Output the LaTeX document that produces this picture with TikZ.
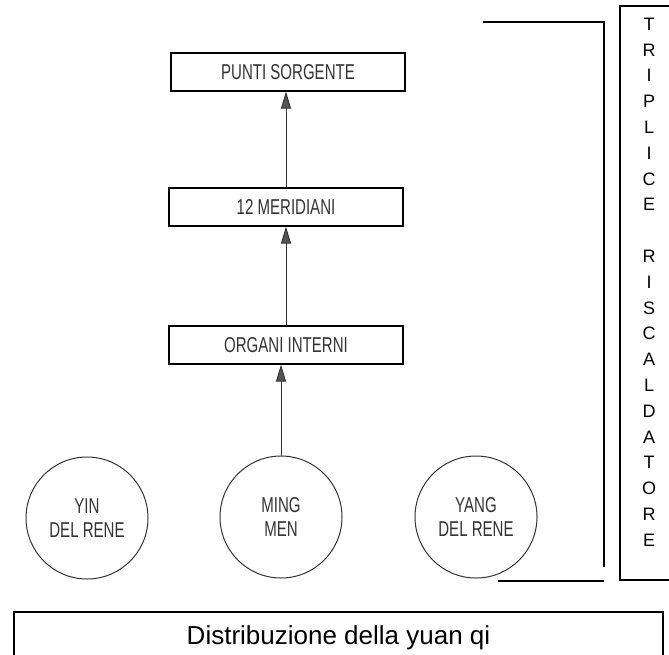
\documentclass[tikz,border=0pt]{standalone}
\usepackage{fontspec}
\setmainfont{Liberation Sans}
\newfontfamily\narrowfont[FakeStretch=0.7]{Liberation Sans}
\usepackage{xcolor}
\usetikzlibrary{arrows.meta,positioning}
\definecolor{inkgray}{HTML}{333333}
\definecolor{tipgray}{HTML}{555555}

\begin{document}
\begin{tikzpicture}[x=1pt,y=-1pt]
\tikzstyle{box} = [rectangle, draw=black, line width=1.2pt, minimum width=234pt, minimum height=38pt, text centered, text=inkgray, font=\narrowfont\fontsize{21.5}{24}\selectfont]
\tikzstyle{source} = [circle, draw=inkgray, line width=1pt, minimum size=122pt, inner sep=0pt, align=center, text=inkgray, font=\narrowfont\fontsize{21.5}{24}\selectfont]
\tikzstyle{arrow} = [draw=inkgray, line width=1pt, -{Triangle[width=10pt,length=17pt,fill=tipgray]}]
\tikzstyle{frame} = [draw=black, line width=2pt]

\useasboundingbox (0,0) rectangle (669,654);

% Nodes
\node (punti) [box] at (288,72) {PUNTI SORGENTE};
\node (merid) [box] at (286,207) {12 MERIDIANI};
\node (organi) [box] at (286,345) {ORGANI INTERNI};
\node (yin) [source] at (87,518) {YIN\\DEL RENE};
\node (ming) [source] at (281,517) {MING\\MEN};
\node (yang) [source] at (476,517) {YANG\\DEL RENE};

% Triplice riscaldatore
\coordinate (brtop) at (483,22);
\coordinate (brcorner) at (604,22);
\coordinate (brend) at (604,567);
\coordinate (lowleft) at (498,581);
\coordinate (lowright) at (604,581);
\draw [frame] (brtop) -- (brcorner) -- (brend);
\draw [frame] (lowleft) -- (lowright);
\draw [frame] (620,6) rectangle (690,580);
\node (triplice) [align=center, inner sep=0pt, font=\fontsize{18}{25.8}\selectfont] at (649,282)
  {T\\R\\I\\P\\L\\I\\C\\E\\[25.8pt]R\\I\\S\\C\\A\\L\\D\\A\\T\\O\\R\\E};

% Distribuzione
\node (distrib) [frame, rectangle, anchor=north, minimum width=649pt, inner ysep=0pt, text height=32pt, text depth=30pt, font=\fontsize{26}{30}\selectfont] at (338.5,611) {Distribuzione della yuan qi};

% Arrows
\draw [arrow] (ming.north) -- (ming.north |- organi.south);
\draw [arrow] (organi.north) -- (merid.south);
\draw [arrow] (merid.north) -- (merid.north |- punti.south);

\end{tikzpicture}
\end{document}
